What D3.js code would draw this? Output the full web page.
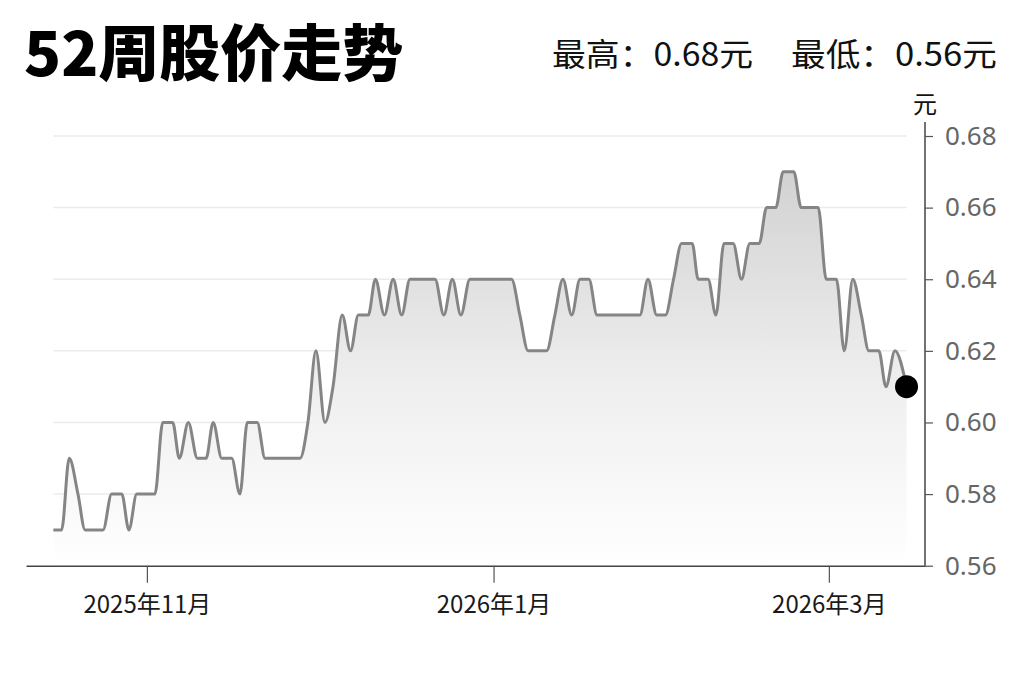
<!DOCTYPE html>
<html>
<head>
<meta charset="utf-8">
<script src="https://cdn.jsdelivr.net/npm/d3@7/dist/d3.min.js"></script>
<style>
  html, body { margin: 0; padding: 0; background: #fff; }
  svg { display: block; }
  text { font-family: "Noto Sans CJK SC", "Noto Sans", sans-serif; }
</style>
</head>
<body>
<svg id="chart" width="1023" height="682"></svg>
<script>
// ---- data ----
const titleText = "52周股价走势";
const highText = "最高：0.68元";
const lowText = "最低：0.56元";
const unitText = "元";

const dates = [
  "2025-10-15T13:00","2025-10-17T00:00","2025-10-18T08:00","2025-10-19T21:00","2025-10-21T03:00",
  "2025-10-24T07:00","2025-10-25T19:00","2025-10-27T14:00","2025-10-28T20:00","2025-10-30T05:00",
  "2025-11-02T10:00","2025-11-03T19:00","2025-11-05T13:00","2025-11-06T17:00","2025-11-08T07:00",
  "2025-11-09T21:00","2025-11-11T10:00","2025-11-12T16:00","2025-11-14T04:00","2025-11-15T22:00",
  "2025-11-17T09:00","2025-11-18T16:00","2025-11-20T10:00","2025-11-21T19:00","2025-11-27T23:00",
  "2025-11-29T08:00","2025-11-30T18:00","2025-12-02T08:00","2025-12-03T18:00","2025-12-05T09:00",
  "2025-12-06T20:00","2025-12-08T05:00","2025-12-09T23:00","2025-12-11T05:00","2025-12-12T19:00",
  "2025-12-14T08:00","2025-12-15T20:00","2025-12-17T07:00","2025-12-21T17:00","2025-12-23T06:00",
  "2025-12-24T18:00","2025-12-26T06:00","2025-12-27T20:00","2026-01-04T04:00","2026-01-05T15:00",
  "2026-01-07T02:00","2026-01-10T08:00","2026-01-11T19:00","2026-01-13T05:00","2026-01-14T18:00",
  "2026-01-16T05:00","2026-01-17T19:00","2026-01-19T05:00","2026-01-26T18:00","2026-01-28T04:00",
  "2026-01-29T17:00","2026-01-31T06:00","2026-02-01T16:00","2026-02-03T02:00","2026-02-04T23:00",
  "2026-02-06T00:00","2026-02-07T18:00","2026-02-09T03:00","2026-02-10T13:00","2026-02-12T04:00",
  "2026-02-13T15:00","2026-02-15T02:00","2026-02-16T18:00","2026-02-18T01:00","2026-02-19T16:00",
  "2026-02-20T23:00","2026-02-22T20:00","2026-02-24T03:00","2026-02-27T03:00","2026-02-28T13:00",
  "2026-03-02T08:00","2026-03-03T17:00","2026-03-05T05:00","2026-03-06T17:00","2026-03-08T01:00",
  "2026-03-09T19:00","2026-03-11T01:00","2026-03-12T15:00","2026-03-14T16:00"
];
const prices = [
  0.57,0.57,0.59,0.58,0.57,
  0.57,0.58,0.58,0.57,0.58,
  0.58,0.60,0.60,0.59,0.60,
  0.59,0.59,0.60,0.59,0.59,
  0.58,0.60,0.60,0.59,0.59,
  0.60,0.62,0.60,0.61,0.63,
  0.62,0.63,0.63,0.64,0.63,
  0.64,0.63,0.64,0.64,0.63,
  0.64,0.63,0.64,0.64,0.63,
  0.62,0.62,0.63,0.64,0.63,
  0.64,0.64,0.63,0.63,0.64,
  0.63,0.63,0.64,0.65,0.65,
  0.64,0.64,0.63,0.65,0.65,
  0.64,0.65,0.65,0.66,0.66,
  0.67,0.67,0.66,0.66,0.64,
  0.64,0.62,0.64,0.63,0.62,
  0.62,0.61,0.62,0.61
];
const yTicks = [0.56, 0.58, 0.60, 0.62, 0.64, 0.66, 0.68];
const xTicks = ["2025-11-01T00:00", "2026-01-01T00:00", "2026-03-01T00:00"];
const xDomain = ["2025-10-10T17:30", "2026-03-17T22:00"];
const yDomain = [0.56, 0.68];

// ---- drawing ----
const parse = d3.timeParse("%Y-%m-%dT%H:%M");
const data = dates.map((d, i) => ({ date: parse(d), value: prices[i] }));

const svg = d3.select("#chart");
const x = d3.scaleTime().domain(xDomain.map(parse)).range([26, 925]);
const y = d3.scaleLinear().domain(yDomain).range([565.7, 136]);

// gradient
const defs = svg.append("defs");
const grad = defs.append("linearGradient")
  .attr("id", "areaGrad")
  .attr("gradientUnits", "userSpaceOnUse")
  .attr("x1", 0).attr("x2", 0)
  .attr("y1", y(0.67)).attr("y2", y(0.56));
grad.append("stop").attr("offset", "0%").attr("stop-color", "#d2d2d2");
grad.append("stop").attr("offset", "55%").attr("stop-color", "#efefef");
grad.append("stop").attr("offset", "100%").attr("stop-color", "#ffffff");

const x0 = x(data[0].date), x1 = x(data[data.length - 1].date);

// gridlines
svg.append("g").selectAll("line")
  .data(yTicks.filter(t => t > yDomain[0]))
  .join("line")
  .attr("x1", x0).attr("x2", x1)
  .attr("y1", d => y(d)).attr("y2", d => y(d))
  .attr("stroke", "#ebebeb").attr("stroke-width", 1.5);

// area
const area = d3.area()
  .x(d => x(d.date)).y0(y(yDomain[0])).y1(d => y(d.value))
  .curve(d3.curveMonotoneX);
svg.append("path").datum(data).attr("d", area).attr("fill", "url(#areaGrad)");

// line
const line = d3.line().x(d => x(d.date)).y(d => y(d.value)).curve(d3.curveMonotoneX);
svg.append("path").datum(data).attr("d", line)
  .attr("fill", "none").attr("stroke", "#858585").attr("stroke-width", 3)
  .attr("stroke-linejoin", "round");

// x axis
const xAxis = d3.axisBottom(x)
  .tickValues(xTicks.map(parse))
  .tickFormat(d3.timeFormat("%Y年%-m月"))
  .tickSize(17).tickSizeOuter(0).tickPadding(13);
const gx = svg.append("g").attr("transform", `translate(0,${y(yDomain[0])})`).call(xAxis);
gx.select(".domain").attr("stroke", "#444").attr("stroke-width", 1.5);
gx.selectAll(".tick line").attr("stroke", "#555").attr("stroke-width", 1.2);
gx.selectAll(".tick text").attr("fill", "#1a1a1a").attr("font-size", 24)
  .style("font-family", '"Noto Sans CJK SC", sans-serif');

// y axis
const yAxis = d3.axisRight(y)
  .tickValues(yTicks)
  .tickFormat(d3.format(".2f"))
  .tickSize(8).tickSizeOuter(0).tickPadding(12);
const gy = svg.append("g").attr("transform", `translate(925,0)`).call(yAxis);
gy.select(".domain").attr("stroke", "#444").attr("stroke-width", 1.5)
  .attr("d", `M0,122V${y(yDomain[0])}`);
gy.selectAll(".tick line").attr("stroke", "#555").attr("stroke-width", 1.2);
gy.selectAll(".tick text").attr("fill", "#666").attr("font-size", 26)
  .style("font-family", '"Noto Sans", "Noto Sans CJK SC", sans-serif');

// unit
svg.append("text").attr("x", 925).attr("y", 113).attr("text-anchor", "middle")
  .attr("font-size", 24).attr("fill", "#111").text(unitText);

// end dot
const last = data[data.length - 1];
svg.append("circle").attr("cx", x(last.date)).attr("cy", y(last.value)).attr("r", 11.5).attr("fill", "#000");

// title
svg.append("text").attr("x", 24).attr("y", 76)
  .attr("font-size", 61).attr("font-weight", 900).attr("fill", "#000").text(titleText);

// high/low
svg.append("text").attr("x", 552).attr("y", 66)
  .attr("font-size", 32).attr("fill", "#111")
  .attr("textLength", 201).attr("lengthAdjust", "spacingAndGlyphs").text(highText);
svg.append("text").attr("x", 791).attr("y", 66)
  .attr("font-size", 32).attr("fill", "#111")
  .attr("textLength", 206).attr("lengthAdjust", "spacingAndGlyphs").text(lowText);
</script>
</body>
</html>
